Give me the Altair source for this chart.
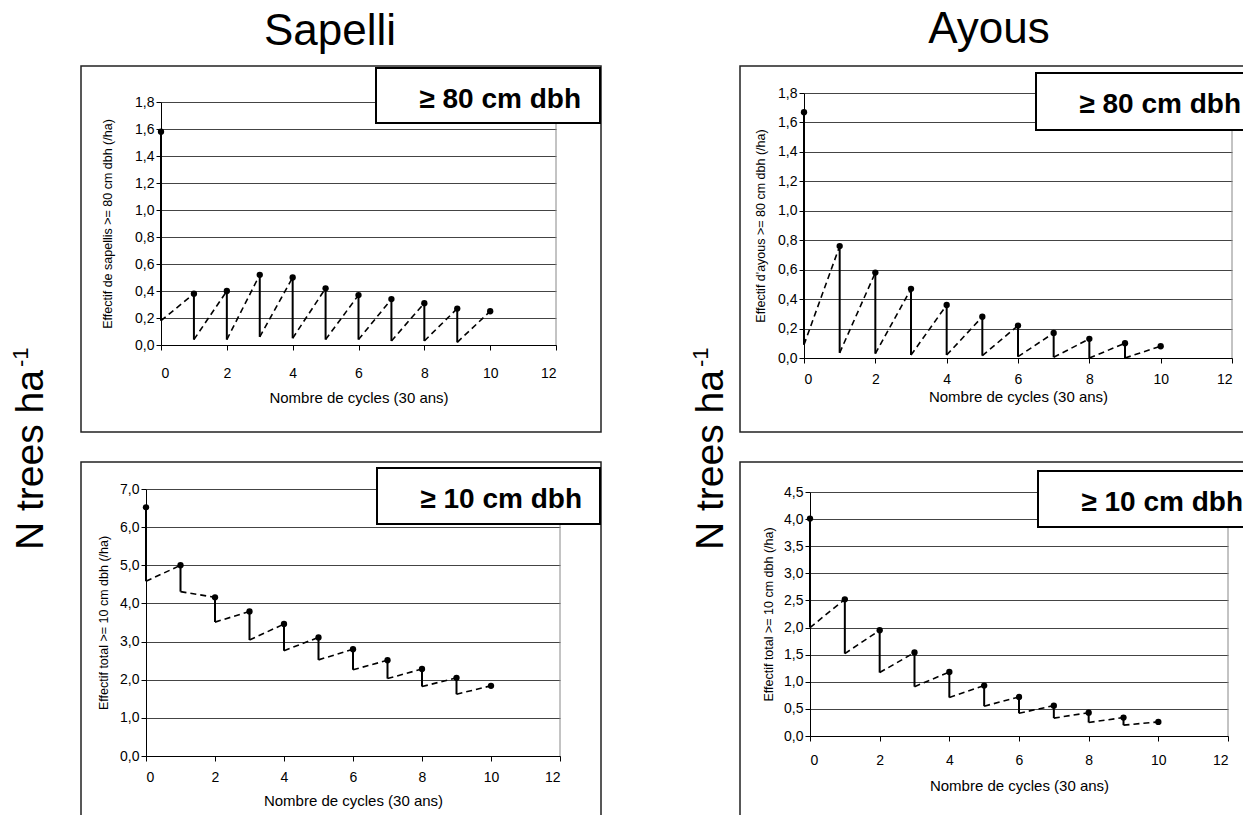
import altair as alt
import pandas as pd

# ---------------- data ----------------
cycles = list(range(11))

sap80_peak = [1.58, 0.38, 0.40, 0.52, 0.50, 0.42, 0.37, 0.34, 0.31, 0.27, 0.25]
sap80_low = [0.18, 0.04, 0.04, 0.06, 0.05, 0.04, 0.04, 0.03, 0.03, 0.02]

sap10_peak = [6.52, 5.00, 4.16, 3.79, 3.46, 3.11, 2.80, 2.51, 2.28, 2.05, 1.84]
sap10_low = [4.58, 4.31, 3.51, 3.04, 2.76, 2.52, 2.26, 2.03, 1.82, 1.62]

ay80_peak = [1.67, 0.76, 0.58, 0.47, 0.36, 0.28, 0.22, 0.17, 0.13, 0.10, 0.08]
ay80_low = [0.09, 0.035, 0.03, 0.02, 0.02, 0.016, 0.009, 0.005, 0.0, 0.0]

ay10_peak = [4.01, 2.52, 1.95, 1.54, 1.18, 0.93, 0.72, 0.56, 0.43, 0.34, 0.26]
ay10_low = [2.00, 1.52, 1.17, 0.91, 0.71, 0.55, 0.42, 0.33, 0.25, 0.20]

x_ticks = [0, 2, 4, 6, 8, 10, 12]
y_ticks_80 = [0, 0.2, 0.4, 0.6, 0.8, 1.0, 1.2, 1.4, 1.6, 1.8]
y_ticks_sap10 = [0, 1, 2, 3, 4, 5, 6, 7]
y_ticks_ay10 = [0, 0.5, 1.0, 1.5, 2.0, 2.5, 3.0, 3.5, 4.0, 4.5]

x_title = "Nombre de cycles (30 ans)"

# ---------------- layout ----------------
W, H = 1243, 815
FONT = "Liberation Sans"
one = pd.DataFrame({"k": [0]})


def panel(peaks, lows, ymax, yticks, xr, yr, ytitle, lab_pad, tit_pad, y_tit_pad):
    xs = alt.Scale(domain=[0, 12], range=xr, nice=False, zero=False)
    ys = alt.Scale(domain=[0, ymax], range=yr, nice=False, zero=False)
    xaxis = alt.Axis(orient="bottom", offset=yr[0] - H, values=x_ticks, grid=False,
                     tickSize=5, labelPadding=lab_pad, titlePadding=tit_pad,
                     title=x_title, labelFontSize=14, titleFontSize=15,
                     format="d")
    yaxis = alt.Axis(orient="left", offset=-xr[0], values=yticks, grid=True,
                     gridColor="#444", gridWidth=1, tickSize=5, labelPadding=2,
                     titlePadding=y_tit_pad, title=ytitle, labelFontSize=14,
                     titleFontSize=12.5,
                     labelExpr="replace(format(datum.value, '.1f'), '.', ',')")

    pts = pd.DataFrame({"cycle": cycles, "value": peaks})
    drops = pd.DataFrame({"cycle": cycles[:-1], "top": peaks[:-1], "low": lows})
    grows = pd.DataFrame({"start": cycles[:-1], "low": lows,
                          "end": cycles[1:], "peak": peaks[1:]})
    border = pd.DataFrame({"x": [12], "y0": [0], "y1": [ymax]})

    b = alt.Chart(border).mark_rule(color="#888", strokeWidth=1).encode(
        x=alt.X("x:Q", scale=xs, axis=xaxis),
        y=alt.Y("y0:Q", scale=ys, axis=yaxis),
        y2="y1:Q",
    )
    d = alt.Chart(drops).mark_rule(color="black", strokeWidth=2).encode(
        x=alt.X("cycle:Q", scale=xs, axis=xaxis),
        y=alt.Y("top:Q", scale=ys, axis=yaxis),
        y2="low:Q",
    )
    g = alt.Chart(grows).mark_rule(color="black", strokeWidth=1.6,
                                   strokeDash=[6, 4]).encode(
        x=alt.X("start:Q", scale=xs, axis=xaxis),
        y=alt.Y("low:Q", scale=ys, axis=yaxis),
        x2="end:Q",
        y2="peak:Q",
    )
    p = alt.Chart(pts).mark_circle(color="black", size=40, opacity=1).encode(
        x=alt.X("cycle:Q", scale=xs, axis=xaxis),
        y=alt.Y("value:Q", scale=ys, axis=yaxis),
    )
    return alt.layer(b, g, d, p)


def frame(x1, y1, x2, y2):
    return alt.Chart(one).mark_rect(filled=False, stroke="#222", strokeWidth=1.5).encode(
        x=alt.value(x1), x2=alt.value(x2), y=alt.value(y1), y2=alt.value(y2))


def label_box(x1, y1, x2, y2, text):
    r = alt.Chart(one).mark_rect(fill="white", stroke="black", strokeWidth=2).encode(
        x=alt.value(x1), x2=alt.value(x2), y=alt.value(y1), y2=alt.value(y2))
    t = alt.Chart(one).mark_text(text=text, font=FONT, fontSize=28, fontWeight="bold",
                                 align="right", baseline="alphabetic",
                                 color="black").encode(
        x=alt.value(x1 + 205), y=alt.value(y1 + 40))
    return alt.layer(r, t)


def title_text(x, y, text):
    return alt.Chart(one).mark_text(text=text, font=FONT, fontSize=44, align="center",
                                    baseline="alphabetic", color="black").encode(
        x=alt.value(x), y=alt.value(y))


def ntrees(x, y):
    main = alt.Chart(one).mark_text(text="N trees ha", font=FONT, fontSize=39, angle=270,
                                    align="left", baseline="alphabetic",
                                    color="black").encode(
        x=alt.value(x), y=alt.value(y))
    sup = alt.Chart(one).mark_text(text="-1", font=FONT, fontSize=22, angle=270,
                                   align="left", baseline="alphabetic",
                                   color="black").encode(
        x=alt.value(x - 15), y=alt.value(y - 183))
    return alt.layer(main, sup)


frames = alt.layer(
    frame(81, 66, 601, 432),
    frame(81, 462, 601, 822),
    frame(740, 66, 1260, 432),
    frame(740, 462, 1260, 818),
)

p1 = panel(sap80_peak, sap80_low, 1.8, y_ticks_80, [161, 556], [345, 102],
           "Effectif de sapellis >= 80 cm dbh (/ha)", 16, 10, 20)
p2 = panel(sap10_peak, sap10_low, 7.0, y_ticks_sap10, [146, 560], [756, 489],
           "Effectif total >= 10 cm dbh (/ha)", 9, 9, 9)
p3 = panel(ay80_peak, ay80_low, 1.8, y_ticks_80, [804, 1232], [358, 93],
           "Effectif d'ayous >= 80 cm dbh (/ha)", 9, 3, 10)
p4 = panel(ay10_peak, ay10_low, 4.5, y_ticks_ay10, [810, 1228], [736, 492],
           "Effectif total >= 10 cm dbh (/ha)", 12, 11, 8)

boxes = alt.layer(
    label_box(376, 68, 600, 123, "≥ 80 cm dbh"),
    label_box(377, 468, 600, 524, "≥ 10 cm dbh"),
    label_box(1036, 73, 1262, 130, "≥ 80 cm dbh"),
    label_box(1038, 471, 1262, 527, "≥ 10 cm dbh"),
)

texts = alt.layer(
    title_text(330, 45, "Sapelli"),
    title_text(989, 43, "Ayous"),
    ntrees(43, 550),
    ntrees(723, 550),
)

chart = alt.layer(frames, p1, p2, p3, p4, boxes, texts).resolve_scale(
    x="independent", y="independent"
).properties(
    width=W, height=H, padding=0,
    autosize=alt.AutoSizeParams(type="none"),
).configure_view(stroke=None).configure_axis(
    labelFont=FONT, titleFont=FONT, labelColor="black", titleColor="black",
    domainColor="black", tickColor="black", titleFontWeight="normal",
)

chart.save("out.html", embed_options={"renderer": "svg", "actions": False})
